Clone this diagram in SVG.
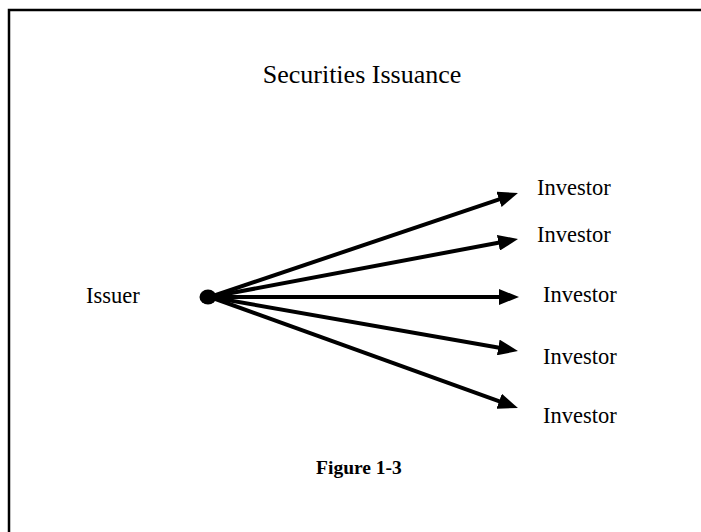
<svg xmlns="http://www.w3.org/2000/svg" width="701" height="532" viewBox="0 0 701 532">
<style>
.t{font-family:"Liberation Serif","Times New Roman",serif;fill:#000}
.lbl{font-size:22.5px}
.c line{stroke:#000;stroke-width:4;marker-end:url(#ah)}
</style>
<defs>
<marker id="ah" markerUnits="userSpaceOnUse" markerWidth="20" markerHeight="16" viewBox="0 0 20 16" refX="4" refY="8" orient="auto">
<path d="M0,0 L20,8 L0,16 Z" fill="#000"/>
</marker>
</defs>
<rect width="701" height="532" fill="#fff"/>
<path d="M9,532 V10 H701" fill="none" stroke="#000" stroke-width="2.5"/>
<text class="t" x="362" y="83" font-size="26" text-anchor="middle">Securities Issuance</text>
<g id="issuer">
<text class="t lbl" x="86" y="303">Issuer</text>
<ellipse cx="208" cy="297" rx="8.5" ry="7.5" fill="#000"/>
</g>
<g class="c" id="connectors">
<line x1="210" y1="297" x2="502.8" y2="198.1"/>
<line x1="210" y1="297" x2="502.3" y2="242"/>
<line x1="210" y1="297" x2="503" y2="297"/>
<line x1="210" y1="297" x2="502.2" y2="348.2"/>
<line x1="210" y1="297" x2="502.9" y2="402.6"/>
</g>
<g id="investor1"><text class="t lbl" x="537" y="195">Investor</text></g>
<g id="investor2"><text class="t lbl" x="537" y="242">Investor</text></g>
<g id="investor3"><text class="t lbl" x="543" y="302">Investor</text></g>
<g id="investor4"><text class="t lbl" x="543" y="364">Investor</text></g>
<g id="investor5"><text class="t lbl" x="543" y="423">Investor</text></g>
<text class="t" x="359" y="474" font-size="19.5" font-weight="bold" text-anchor="middle">Figure 1-3</text>
</svg>
